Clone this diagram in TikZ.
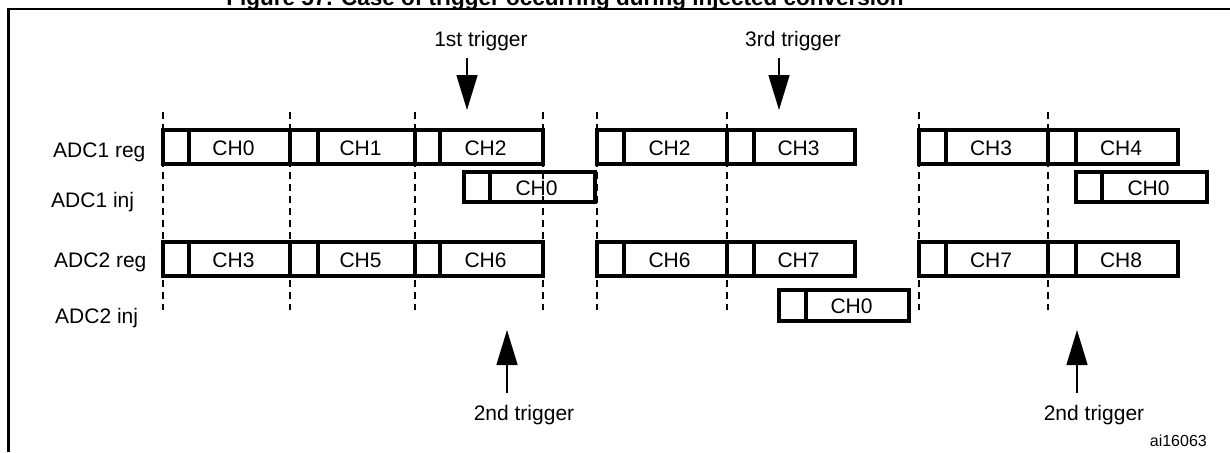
\documentclass[tikz,border=0pt]{standalone}
\usepackage{fontspec}
\setmainfont{Liberation Sans}
\usetikzlibrary{arrows.meta}
\tikzset{
  boxline/.style={line width=3.5pt, line join=miter},
  boxlabel/.style={inner sep=0pt, font=\fontsize{21}{24}\selectfont},
  rowlabel/.style={inner sep=0pt, anchor=base west, font=\fontsize{21}{24}\selectfont},
  triglabel/.style={inner sep=0pt, anchor=base, font=\fontsize{21}{24}\selectfont},
  timeline/.style={line width=2pt, dash pattern=on 7pt off 5pt},
  trigarrow/.style={line width=1.5pt, -{Triangle[length=35pt,width=21pt]}},
  frameline/.style={line width=2.5pt}
}
\newcommand{\segbox}[7]{%
  \draw[boxline] (#2,#4) rectangle (#3,#5);
  \draw[boxline] ({#2+#6},#4) -- ({#2+#6},#5);
  \node[boxlabel] (#1) at ({(#2+#6+#3)/2-6},{(#4+#5)/2+1}) {#7};
}
\begin{document}
\begin{tikzpicture}[x=1pt,y=-1pt]
\useasboundingbox (0,0) rectangle (1230,452);
% title (cut off at the top)
\node[inner sep=0pt, anchor=base, font=\bfseries\fontsize{22.5}{26}\selectfont] (title) at (565,6) {Figure 57. Case of trigger occurring during injected conversion};
% frame
\draw[frameline] (8.7,452) -- (8.7,9) -- (1230,9);
% time lines
\foreach \xx in {163,290,415,543,597,727,919,1048}
  \draw[timeline] (\xx,112) -- (\xx,310);
% row labels
\node[rowlabel] (l1) at (53,157) {ADC1 reg};
\node[rowlabel] (l2) at (51,207) {ADC1 inj};
\node[rowlabel] (l3) at (54,267) {ADC2 reg};
\node[rowlabel] (l4) at (55,323) {ADC2 inj};
% ADC1 reg
\segbox{a1}{163}{290}{130}{164}{26}{CH0}
\segbox{a2}{290}{415}{130}{164}{28}{CH1}
\segbox{a3}{415}{543}{130}{164}{25}{CH2}
\segbox{a4}{597}{727}{130}{164}{27}{CH2}
\segbox{a5}{727}{855}{130}{164}{27}{CH3}
\segbox{a6}{919}{1048}{130}{164}{27}{CH3}
\segbox{a7}{1048}{1178}{130}{164}{28}{CH4}
% ADC1 inj
\segbox{i1}{464}{595}{172}{202}{26}{CH0}
\segbox{i2}{1076}{1207}{172}{202}{26}{CH0}
% ADC2 reg
\segbox{b1}{163}{290}{242}{276}{26}{CH3}
\segbox{b2}{290}{415}{242}{276}{28}{CH5}
\segbox{b3}{415}{543}{242}{276}{25}{CH6}
\segbox{b4}{597}{727}{242}{276}{27}{CH6}
\segbox{b5}{727}{855}{242}{276}{27}{CH7}
\segbox{b6}{919}{1048}{242}{276}{27}{CH7}
\segbox{b7}{1048}{1178}{242}{276}{28}{CH8}
% ADC2 inj
\segbox{j1}{779}{909}{290}{321}{27}{CH0}
% triggers
\node[triglabel] (t1) at (481,47) {1st trigger};
\coordinate (t1a) at (467,58);
\coordinate (t1b) at (467,110);
\draw[trigarrow] (t1a) -- (t1b);
\node[triglabel] (t3) at (793,47) {3rd trigger};
\coordinate (t3a) at (779,58);
\coordinate (t3b) at (779,110);
\draw[trigarrow] (t3a) -- (t3b);
\node[triglabel] (t2) at (524,420) {2nd trigger};
\coordinate (t2a) at (507,393);
\coordinate (t2b) at (507,330);
\draw[trigarrow] (t2a) -- (t2b);
\node[triglabel] (t4) at (1094,420) {2nd trigger};
\coordinate (t4a) at (1077,393);
\coordinate (t4b) at (1077,330);
\draw[trigarrow] (t4a) -- (t4b);
% reference code
\node[inner sep=0pt, anchor=base east, font=\fontsize{16}{19}\selectfont] (code) at (1207,446) {ai16063};
\end{tikzpicture}
\end{document}
